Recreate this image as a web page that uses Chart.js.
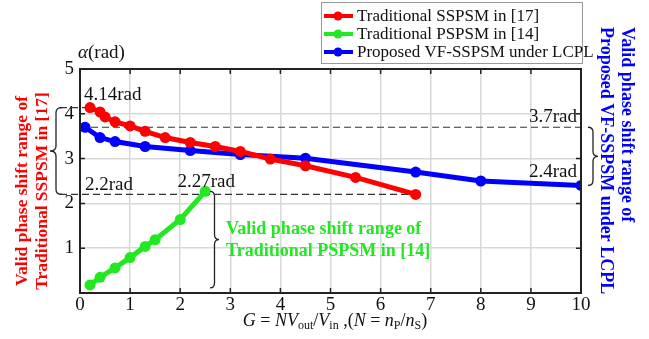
<html>
<head>
<script src="https://cdn.jsdelivr.net/npm/chart.js@4.4.1/dist/chart.umd.min.js"></script>
<style>
	body { margin: 0; background: #fff; }
	#container { width: 649px; height: 339px; }
</style>
</head>
<body>
<div id="container"><canvas id="myChart"></canvas></div>
<script>
	var FONT = "'Liberation Serif', 'Times New Roman', serif";
	var RED = '#ff0000';
	var GREEN = '#22e822';
	var BLUE = '#0000ff';

	// G values and phase shift ranges (rad)
	var gSSPSM = [0.2, 0.4, 0.5, 0.7, 1.0, 1.3, 1.7, 2.2, 2.7, 3.2, 3.8, 4.5, 5.5, 6.7];
	var alphaSSPSM = [4.14, 4.04, 3.93, 3.82, 3.73, 3.61, 3.47, 3.36, 3.27, 3.16, 2.99, 2.84, 2.58, 2.2];
	var gPSPSM = [0.2, 0.4, 0.7, 1.0, 1.3, 1.5, 2.0, 2.5];
	var alphaPSPSM = [0.18, 0.35, 0.56, 0.79, 1.04, 1.19, 1.64, 2.27];
	var gProposed = [0.1, 0.4, 0.7, 1.3, 2.2, 3.2, 4.5, 6.7, 8.0, 10.0];
	var alphaProposed = [3.7, 3.47, 3.38, 3.27, 3.18, 3.09, 3.01, 2.70, 2.5, 2.4];

	var seriesNames = ['Traditional SSPSM in [17]', 'Traditional PSPSM in [14]', 'Proposed VF-SSPSM under LCPL'];
	var xTicks = [0, 1, 2, 3, 4, 5, 6, 7, 8, 9, 10];
	var yTicks = [0, 1, 2, 3, 4, 5];
	var yTickLabels = ['', '1', '2', '3', '4', '5'];

	function pts(xs, ys) {
		return xs.map(function (x, i) { return { x: x, y: ys[i] }; });
	}

	function makeSet(label, xs, ys, color) {
		return {
			label: label,
			data: pts(xs, ys),
			borderColor: color,
			backgroundColor: color,
			borderWidth: 5,
			pointRadius: 5.5,
			pointHoverRadius: 5.5,
			pointBorderWidth: 0,
			showLine: true,
			tension: 0
		};
	}

	function brace(ctx, x, y1, y2, w, dir) {
		var r = 5;
		var ym = (y1 + y2) / 2, xm = x + dir * w / 2, xt = x + dir * w;
		ctx.beginPath();
		ctx.moveTo(x, y1);
		ctx.quadraticCurveTo(xm, y1, xm, y1 + r);
		ctx.lineTo(xm, ym - r);
		ctx.quadraticCurveTo(xm, ym, xt, ym);
		ctx.quadraticCurveTo(xm, ym, xm, ym + r);
		ctx.lineTo(xm, y2 - r);
		ctx.quadraticCurveTo(xm, y2, x, y2);
		ctx.stroke();
	}

	function dashed(ctx, x1, x2, y) {
		ctx.save();
		ctx.setLineDash([7, 4]);
		ctx.strokeStyle = '#333';
		ctx.lineWidth = 1.2;
		ctx.beginPath();
		ctx.moveTo(x1, y);
		ctx.lineTo(x2, y);
		ctx.stroke();
		ctx.restore();
	}

	// mixed italic / subscript text, centred on cx
	function mathText(ctx, runs, cx, y, size) {
		function fontOf(s) {
			if (s == 'i') return 'italic ' + size + 'px ' + FONT;
			if (s == 's') return Math.round(size * 0.68) + 'px ' + FONT;
			return size + 'px ' + FONT;
		}
		var total = 0;
		runs.forEach(function (r) { ctx.font = fontOf(r[1]); total += ctx.measureText(r[0]).width; });
		var x = cx - total / 2;
		ctx.textAlign = 'left';
		ctx.textBaseline = 'alphabetic';
		runs.forEach(function (r) {
			ctx.font = fontOf(r[1]);
			ctx.fillText(r[0], x, r[1] == 's' ? y + 3 : y);
			x += ctx.measureText(r[0]).width;
		});
	}

	var decorPlugin = {
		id: 'decor',
		beforeDatasetsDraw: function (chart) {
			var ctx = chart.ctx, xs = chart.scales.x, ys = chart.scales.y, a = chart.chartArea;
			ctx.save();
			// dashed reference levels
			dashed(ctx, 60, xs.getPixelForValue(gSSPSM[0]), ys.getPixelForValue(alphaSSPSM[0]));
			dashed(ctx, a.left, a.right, ys.getPixelForValue(alphaProposed[0]));
			dashed(ctx, 60, xs.getPixelForValue(gSSPSM[gSSPSM.length - 1]), ys.getPixelForValue(alphaSSPSM[alphaSSPSM.length - 1]));
			ctx.restore();
		},
		afterDraw: function (chart) {
			var ctx = chart.ctx, xs = chart.scales.x, ys = chart.scales.y, a = chart.chartArea;
			ctx.save();

			// frame with inward ticks
			ctx.strokeStyle = '#222';
			ctx.lineWidth = 2;
			ctx.strokeRect(a.left, a.top, a.right - a.left, a.bottom - a.top);
			ctx.lineWidth = 1.5;
			ctx.beginPath();
			xTicks.forEach(function (v) {
				var px = xs.getPixelForValue(v);
				ctx.moveTo(px, a.bottom); ctx.lineTo(px, a.bottom - 5);
				ctx.moveTo(px, a.top); ctx.lineTo(px, a.top + 5);
			});
			yTicks.forEach(function (v) {
				var py = ys.getPixelForValue(v);
				ctx.moveTo(a.left, py); ctx.lineTo(a.left + 5, py);
				ctx.moveTo(a.right, py); ctx.lineTo(a.right - 5, py);
			});
			ctx.stroke();

			// value labels
			var lastS = alphaSSPSM.length - 1, lastP = alphaPSPSM.length - 1, lastV = alphaProposed.length - 1;
			ctx.fillStyle = '#111';
			ctx.font = '19px ' + FONT;
			ctx.textBaseline = 'alphabetic';
			ctx.textAlign = 'left';
			ctx.fillText(alphaSSPSM[0] + 'rad', 84, ys.getPixelForValue(alphaSSPSM[0]) - 8);
			ctx.fillText(alphaSSPSM[lastS] + 'rad', 85, ys.getPixelForValue(alphaSSPSM[lastS]) - 4);
			ctx.textAlign = 'center';
			ctx.fillText(alphaPSPSM[lastP] + 'rad', xs.getPixelForValue(gPSPSM[lastP]) + 1, ys.getPixelForValue(alphaPSPSM[lastP]) - 4);
			ctx.textAlign = 'right';
			ctx.fillText(alphaProposed[0] + 'rad', 577, ys.getPixelForValue(alphaProposed[0]) - 5);
			ctx.fillText(alphaProposed[lastV] + 'rad', 577, ys.getPixelForValue(alphaProposed[lastV]) - 8);

			// y axis title
			ctx.textAlign = 'left';
			ctx.font = 'italic 19px ' + FONT;
			ctx.fillText('\u03b1', 78, 58);
			var w = ctx.measureText('\u03b1').width;
			ctx.font = '19px ' + FONT;
			ctx.fillText('(rad)', 78 + w, 58);

			// x axis title
			mathText(ctx, [['G', 'i'], [' = ', 'n'], ['NV', 'i'], ['out', 's'], ['/', 'n'], ['V', 'i'], ['in', 's'],
				[' ,(', 'n'], ['N', 'i'], [' = ', 'n'], ['n', 'i'], ['P', 's'], ['/', 'n'], ['n', 'i'], ['S', 's'], [')', 'n']],
				335, 326, 18);

			// braces
			ctx.strokeStyle = '#222';
			ctx.lineWidth = 1.3;
			brace(ctx, 62, ys.getPixelForValue(alphaSSPSM[0]), ys.getPixelForValue(alphaSSPSM[lastS]), 12, -1);
			brace(ctx, 588, ys.getPixelForValue(alphaProposed[0]), ys.getPixelForValue(alphaProposed[lastV]), 10, 1);
			brace(ctx, 210, ys.getPixelForValue(alphaPSPSM[lastP]), ys.getPixelForValue(alphaPSPSM[0]) + 3, 9, 1);

			// range notes
			ctx.font = 'bold 18px ' + FONT;
			ctx.fillStyle = GREEN;
			ctx.textAlign = 'left';
			ctx.fillText('Valid phase shift range of', 226, 234);
			ctx.fillText('Traditional PSPSM in [14]', 226, 256);

			ctx.font = 'bold 17.5px ' + FONT;
			ctx.fillStyle = RED;
			ctx.save();
			ctx.translate(0, 191);
			ctx.rotate(-Math.PI / 2);
			ctx.textAlign = 'center';
			ctx.fillText('Valid phase shift range of', 0, 27);
			ctx.fillText('Traditional SSPSM in [17]', 0, 47);
			ctx.restore();

			ctx.font = 'bold 18px ' + FONT;
			ctx.fillStyle = BLUE;
			ctx.save();
			ctx.translate(649, 27);
			ctx.rotate(Math.PI / 2);
			ctx.textAlign = 'left';
			ctx.fillText('Valid phase shift range of', 0, 27);
			ctx.fillText('Proposed VF-SSPSM under LCPL', 0, 48);
			ctx.restore();

			// legend box
			ctx.fillStyle = '#fff';
			ctx.fillRect(321, 2, 261, 61);
			ctx.strokeStyle = '#999';
			ctx.lineWidth = 1;
			ctx.strokeRect(321.5, 2.5, 261, 61);
			ctx.font = '17px ' + FONT;
			ctx.textBaseline = 'middle';
			chart.data.datasets.forEach(function (ds, i) {
				var y = 16 + i * 18;
				ctx.strokeStyle = ds.borderColor;
				ctx.fillStyle = ds.borderColor;
				ctx.lineWidth = 4;
				ctx.beginPath();
				ctx.moveTo(324, y); ctx.lineTo(353, y);
				ctx.stroke();
				ctx.beginPath();
				ctx.arc(338, y, 4.5, 0, Math.PI * 2);
				ctx.fill();
				ctx.fillStyle = '#111';
				ctx.fillText(ds.label, 357, y + 1);
			});

			ctx.restore();
		}
	};

	var ctx = document.getElementById('myChart').getContext('2d');
	var myChart = new Chart(ctx, {
		type: 'scatter',
		data: {
			datasets: [
				makeSet(seriesNames[0], gSSPSM, alphaSSPSM, RED),
				makeSet(seriesNames[1], gPSPSM, alphaPSPSM, GREEN),
				makeSet(seriesNames[2], gProposed, alphaProposed, BLUE)
			]
		},
		options: {
			responsive: true,
			maintainAspectRatio: false,
			animation: false,
			layout: { padding: { left: 0, right: 68, top: 69, bottom: 0 } },
			plugins: { legend: { display: false }, tooltip: { enabled: false } },
			scales: {
				x: {
					type: 'linear', min: 0, max: 10,
					afterBuildTicks: function (s) { s.ticks = xTicks.map(function (v) { return { value: v }; }); },
					afterFit: function (s) { s.height = 46; },
					grid: { color: '#d8d8d8', lineWidth: 1.5, drawTicks: false },
					border: { display: false },
					ticks: { font: { family: FONT, size: 19 }, color: '#111', padding: 1, maxRotation: 0, autoSkip: false }
				},
				y: {
					type: 'linear', min: 0, max: 5,
					afterBuildTicks: function (s) { s.ticks = yTicks.map(function (v) { return { value: v }; }); },
					afterFit: function (s) { s.width = 80; },
					grid: { color: '#d8d8d8', lineWidth: 1.5, drawTicks: false },
					border: { display: false },
					ticks: {
						font: { family: FONT, size: 19 }, color: '#111', padding: 6,
						callback: function (v) { return yTickLabels[yTicks.indexOf(v)]; }
					}
				}
			}
		},
		plugins: [decorPlugin]
	});
</script>
</body>
</html>
